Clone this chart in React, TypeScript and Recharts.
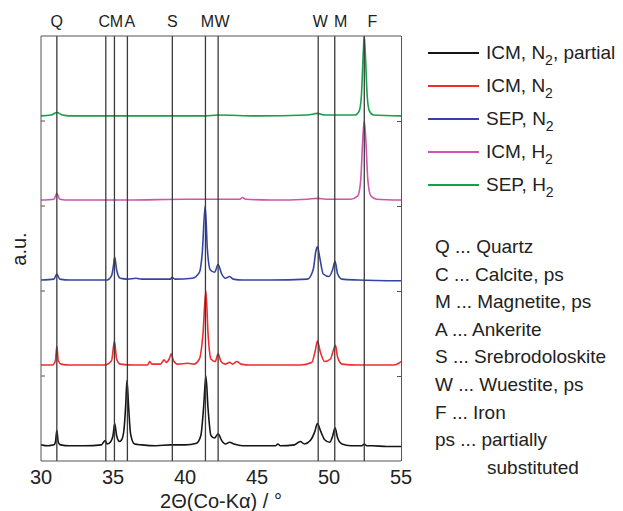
import { Line, LineChart, ReferenceLine, XAxis, YAxis } from "recharts"

const FONT = "'Liberation Sans', Arial, Helvetica, sans-serif"
const FRAME = "#555"
const PHASE_STROKE = "#3a3a3a"

const CHART_W = 623
const CHART_H = 511
const MARGIN = { top: 36, right: 222, bottom: 0, left: 41 }
const X_AXIS_H = 50
const PLOT_RIGHT = CHART_W - MARGIN.right
const PLOT_H = CHART_H - MARGIN.top - MARGIN.bottom - X_AXIS_H

// 2Theta axis
const TWO_THETA_TICKS = [30, 35, 40, 45, 50, 55]
const MINOR_TICKS = [35, 40, 45, 50]
const INTENSITY_TICKS = [1, 2, 3, 4]
const X_MIN = 30
const X_MAX = 55
const Y_MAX = 5

// phase reflections marked on top
const PHASE_POSITIONS = [31.1, 34.5, 35.1, 36.0, 39.12, 41.42, 42.3, 49.25, 50.4, 52.45]
const PHASE_LETTERS = ["Q", "C", "M", "A", "S", "M", "W", "W", "M", "F"]

const PHASE_KEY = [
  "Q ... Quartz",
  "C ... Calcite, ps",
  "M ... Magnetite, ps",
  "A ... Ankerite",
  "S ... Srebrodoloskite",
  "W ... Wuestite, ps",
  "F ... Iron",
  "ps ... partially",
]

// stacked patterns (offset a.u.)
const ICM_N2_PARTIAL: [number, number][] = [
  [30, 0.19], [30.5, 0.18], [30.9, 0.19], [31.0, 0.22], [31.1, 0.36], [31.2, 0.22], [31.35, 0.19],
  [32, 0.18], [33, 0.18], [34.2, 0.19], [34.45, 0.24], [34.6, 0.2], [34.85, 0.23], [35.0, 0.3],
  [35.12, 0.44], [35.25, 0.3], [35.45, 0.23], [35.6, 0.25], [35.75, 0.35], [35.88, 0.65],
  [35.97, 0.95], [36.08, 0.65], [36.22, 0.32], [36.5, 0.2], [37, 0.19], [38, 0.18], [39, 0.19],
  [40, 0.19], [40.8, 0.21], [41.1, 0.3], [41.3, 0.65], [41.45, 1.0], [41.6, 0.62], [41.8, 0.3],
  [42.05, 0.27], [42.3, 0.32], [42.55, 0.24], [42.8, 0.2], [43.1, 0.22], [43.4, 0.2], [44, 0.18],
  [45, 0.18], [46.3, 0.18], [46.45, 0.2], [46.6, 0.18], [47.6, 0.19], [48.0, 0.23], [48.3, 0.2],
  [48.7, 0.24], [49.0, 0.34], [49.2, 0.44], [49.4, 0.36], [49.7, 0.25], [50.05, 0.22], [50.25, 0.29],
  [50.42, 0.39], [50.6, 0.27], [50.9, 0.2], [51.5, 0.18], [52.3, 0.18], [52.45, 0.2], [52.6, 0.18],
  [53, 0.18], [54, 0.17], [55, 0.17],
]

const ICM_N2: [number, number][] = [
  [30, 1.13], [30.8, 1.13], [31.0, 1.18], [31.1, 1.35], [31.2, 1.18], [31.4, 1.14], [32, 1.13],
  [34.4, 1.13], [34.9, 1.18], [35.1, 1.41], [35.25, 1.2], [35.5, 1.14], [36.5, 1.13], [37.4, 1.13],
  [37.55, 1.17], [37.7, 1.14], [38.3, 1.14], [38.55, 1.19], [38.7, 1.16], [38.9, 1.2], [39.05, 1.26],
  [39.2, 1.18], [39.5, 1.14], [40.2, 1.15], [40.6, 1.14], [41.0, 1.2], [41.25, 1.5], [41.45, 2.0],
  [41.6, 1.5], [41.8, 1.2], [42.1, 1.17], [42.3, 1.26], [42.5, 1.17], [42.8, 1.14], [43.1, 1.16],
  [43.3, 1.14], [43.6, 1.17], [43.9, 1.14], [44.5, 1.13], [46, 1.13], [48, 1.13], [48.8, 1.16],
  [49.05, 1.3], [49.2, 1.41], [49.4, 1.28], [49.7, 1.17], [50.1, 1.2], [50.3, 1.3], [50.45, 1.36],
  [50.6, 1.22], [50.9, 1.14], [52, 1.13], [54.5, 1.13], [54.85, 1.15], [55, 1.17],
]

const SEP_N2: [number, number][] = [
  [30, 2.13], [30.9, 2.14], [31.1, 2.2], [31.3, 2.14], [32, 2.13], [34.6, 2.13], [34.9, 2.18],
  [35.05, 2.32], [35.12, 2.4], [35.25, 2.25], [35.5, 2.15], [36.0, 2.14], [36.6, 2.15], [37, 2.14],
  [39, 2.14], [39.1, 2.16], [39.3, 2.14], [40.5, 2.15], [41.0, 2.22], [41.2, 2.45], [41.4, 3.0],
  [41.55, 2.5], [41.75, 2.25], [42.05, 2.22], [42.3, 2.31], [42.55, 2.2], [42.8, 2.15], [43.1, 2.17],
  [43.35, 2.14], [44, 2.13], [46, 2.13], [48.5, 2.14], [48.9, 2.25], [49.1, 2.48], [49.2, 2.52],
  [49.35, 2.4], [49.6, 2.2], [50.0, 2.17], [50.25, 2.25], [50.42, 2.35], [50.6, 2.2], [50.9, 2.14],
  [52, 2.13], [55, 2.12],
]

const ICM_H2: [number, number][] = [
  [30, 3.07], [30.9, 3.08], [31.1, 3.15], [31.3, 3.08], [32, 3.07], [36, 3.07], [40, 3.08],
  [41.4, 3.08], [42.5, 3.08], [43.8, 3.08], [44.0, 3.1], [44.2, 3.08], [46, 3.07], [48.5, 3.08],
  [49.2, 3.09], [49.8, 3.08], [51.5, 3.08], [52.0, 3.12], [52.2, 3.3], [52.35, 3.8], [52.45, 4.0],
  [52.55, 3.8], [52.7, 3.3], [52.9, 3.12], [53.3, 3.08], [55, 3.07],
]

const SEP_H2: [number, number][] = [
  [30, 4.06], [30.7, 4.07], [31.1, 4.1], [31.5, 4.07], [32, 4.06], [41.4, 4.06], [42.3, 4.07],
  [45, 4.06], [48.5, 4.07], [49.2, 4.09], [49.7, 4.07], [51.8, 4.07], [52.1, 4.12], [52.25, 4.3],
  [52.38, 4.8], [52.45, 5.0], [52.52, 4.8], [52.65, 4.3], [52.8, 4.12], [53.1, 4.07], [55, 4.06],
]

const SERIES = [
  { key: "icm-n2-partial", pre: "ICM, N", sub: "2", post: ", partial", color: "#151515", points: ICM_N2_PARTIAL },
  { key: "icm-n2", pre: "ICM, N", sub: "2", post: "", color: "#ee2e2e", points: ICM_N2 },
  { key: "sep-n2", pre: "SEP, N", sub: "2", post: "", color: "#3344a6", points: SEP_N2 },
  { key: "icm-h2", pre: "ICM, H", sub: "2", post: "", color: "#cc55ad", points: ICM_H2 },
  { key: "sep-h2", pre: "SEP, H", sub: "2", post: "", color: "#17a04b", points: SEP_H2 },
]

const LABEL_NUDGE = [0, -1.5, 2, 2.5, 0, 2, 4, 2, 6, 8]

const toPoints = (pts: [number, number][]) => pts.map(([x, y]) => ({ x, y }))

const blank = () => ""

function PhaseLabel({ viewBox, text, nudge }: any) {
  if (!viewBox) return null
  return (
    <text x={viewBox.x + nudge} y={viewBox.y - 9} textAnchor="middle" fontSize={16} fill="#222" fontFamily={FONT}>
      {text}
    </text>
  )
}

export default function App() {
  return (
    <div style={{ position: "absolute", left: 0, top: 0, width: CHART_W, height: CHART_H, background: "#fff", fontFamily: FONT, color: "#222" }}>
      <LineChart width={CHART_W} height={CHART_H} margin={MARGIN}>
        <XAxis
          xAxisId="b"
          type="number"
          dataKey="x"
          domain={[X_MIN, X_MAX]}
          ticks={TWO_THETA_TICKS}
          allowDataOverflow
          height={X_AXIS_H}
          tickLine={false}
          tickSize={4}
          tickMargin={5}
          axisLine={{ stroke: FRAME }}
          tick={{ fontSize: 20, fill: "#222", fontFamily: FONT }}
          label={{ value: "2Θ(Co-Kα) / °", position: "insideBottom", offset: 3, fontSize: 20, fill: "#222", fontFamily: FONT }}
        />
        <XAxis xAxisId="bt" type="number" domain={[X_MIN, X_MAX]} allowDataOverflow ticks={MINOR_TICKS} mirror
          tickSize={4} tickFormatter={blank} axisLine={false} tickLine={{ stroke: FRAME }} />
        <XAxis xAxisId="t" orientation="top" type="number" domain={[X_MIN, X_MAX]} allowDataOverflow ticks={MINOR_TICKS} mirror
          tickSize={4} tickFormatter={blank} axisLine={{ stroke: FRAME }} tickLine={{ stroke: FRAME }} />
        <YAxis yAxisId="l" type="number" domain={[0, Y_MAX]} ticks={INTENSITY_TICKS} mirror allowDataOverflow
          tickSize={4} tickFormatter={blank} axisLine={{ stroke: FRAME }} tickLine={{ stroke: FRAME }} />

        {SERIES.map((s) => (
          <Line
            key={s.key}
            xAxisId="b"
            yAxisId="l"
            data={toPoints(s.points)}
            dataKey="y"
            type="monotone"
            stroke={s.color}
            strokeWidth={1.6}
            dot={false}
            activeDot={false}
            isAnimationActive={false}
          />
        ))}

        {PHASE_POSITIONS.map((pos, i) => (
          <ReferenceLine
            key={`phase-${i}`}
            xAxisId="b"
            yAxisId="l"
            x={pos}
            stroke={PHASE_STROKE}
            strokeWidth={1.3}
            label={(props: any) => <PhaseLabel {...props} text={PHASE_LETTERS[i]} nudge={LABEL_NUDGE[i]} />}
          />
        ))}
      </LineChart>

      {/* right frame edge with inward ticks */}
      <div style={{ position: "absolute", left: PLOT_RIGHT - 0.5, top: MARGIN.top, width: 1, height: PLOT_H, background: FRAME }} />
      {INTENSITY_TICKS.map((t) => (
        <div
          key={`rt-${t}`}
          style={{ position: "absolute", left: PLOT_RIGHT - 4.5, top: MARGIN.top + ((Y_MAX - t) / Y_MAX) * PLOT_H - 0.5, width: 4, height: 1, background: FRAME }}
        />
      ))}

      <div style={{ position: "absolute", left: 2, top: 249, transform: "translate(0, -50%) rotate(-90deg)", fontSize: 20, lineHeight: "24px" }}>
        a.u.
      </div>

      {SERIES.map((s, i) => (
        <div key={s.key} style={{ position: "absolute", left: 428, top: 41 + i * 33, height: 24, display: "flex", alignItems: "center", whiteSpace: "nowrap", fontSize: 19, lineHeight: "24px" }}>
          <div style={{ width: 51, height: 0, borderTop: `2px solid ${s.color}`, marginRight: 7 }} />
          <span>
            {s.pre}
            <sub style={{ fontSize: 14, lineHeight: 0, verticalAlign: -6 }}>{s.sub}</sub>
            {s.post}
          </span>
        </div>
      ))}

      {PHASE_KEY.map((t, i) => (
        <div key={t} style={{ position: "absolute", left: 435, top: 235 + i * 27.6, fontSize: 19, lineHeight: "24px", whiteSpace: "nowrap" }}>
          {t}
        </div>
      ))}
      <div style={{ position: "absolute", left: 487, top: 235 + 8 * 27.6, fontSize: 19, lineHeight: "24px", whiteSpace: "nowrap" }}>
        substituted
      </div>
    </div>
  )
}
